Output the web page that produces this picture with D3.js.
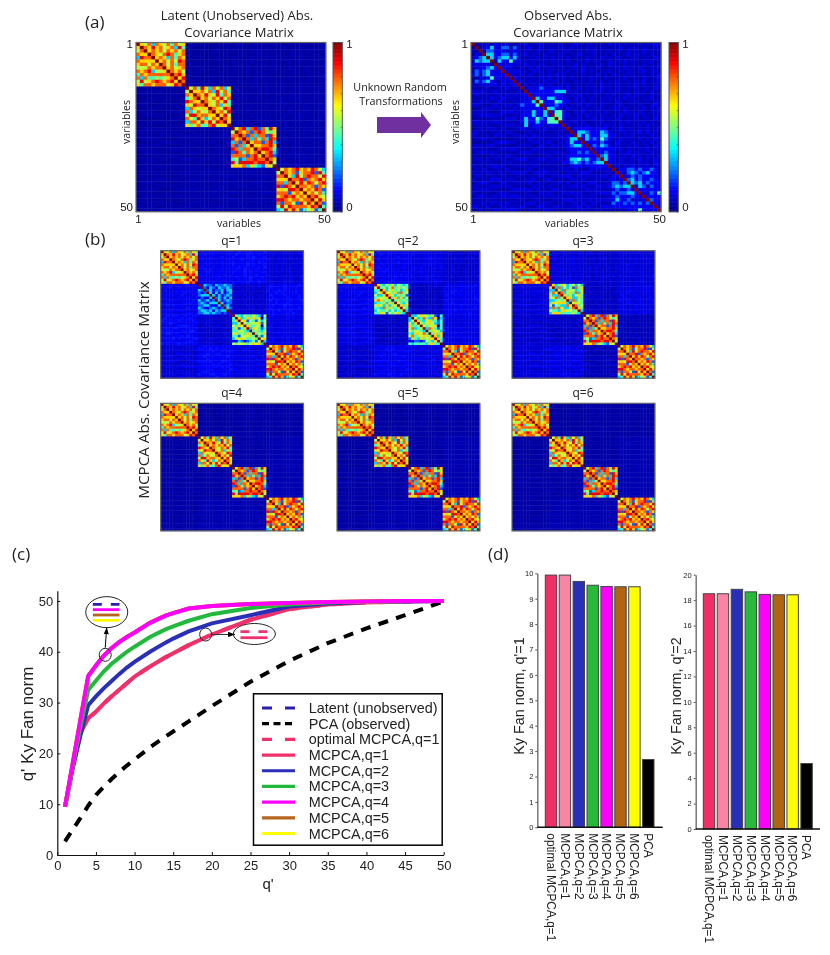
<!DOCTYPE html>
<html>
<head>
<meta charset="utf-8">
<script src="https://cdn.jsdelivr.net/npm/d3@7"></script>
<style>
body{margin:0;background:#fff;}
svg{display:block;filter:blur(.3px);}
text{fill:#222;}
.sans{font-family:"Liberation Sans",Arial,sans-serif;}
.myriad{font-family:"Open Sans",sans-serif;}
</style>
</head>
<body>
<script>
var width = 830, height = 955;

// heatmap data. upper triangle of each block, digit/9, diagonal first
// 0 in a block = falls back on the background level
var blockSizes = [13,12,12,13];

var latent0 = ["9657376574756","976867567384","96767576757","9765787467","967637476","96757587","9757477","967567","97675","9786","968","97","9"];
var latent1 = ["957486375736","96675738574","9768658476","967576857","97657684","9657364","976587","96758","9685","976","96","9"];
var latent2 = ["957837827486","97672787546","9727377286","973747387","96772783","9667786","978874","96783","9782","976","95","9"];
var latent3 = ["9576786768753","976726778284","96385787758","9778276786","968687578","97767276","9676872","967574","97865","9686","972","94","9"];

var observed0 = ["9000001001000","901131022020","90220110010","9331122020","931233130","90310411","9101101","910100","91011","9100","910","91","9"];
var observed1 = ["901012101110","91011101333","9111011110","931133111","94111431","9111211","933110","91441","9441","941","91","9"];
var observed2 = ["901111101110","91332111321","9313111331","913121421","91111210","9121321","911111","91121","9231","931","91","9"];
var observed3 = ["9011221211210","910232123110","91121211110","9231211210","932312111","91320210","9111110","910214","91111","9211","911","91","9"];

var q1Block1 = ["913221322322","92132132232","9231223133","931313123","93131232","9231313","931232","93122","9231","932","91","9"];
var q1Block2 = ["944354454315","96346464614","9562542535","954555625","96445515","9365424","946435","94546","9425","956","93","9"];
var q2Block1 = ["964354635434","94535746454","9635645346","965463745","96536452","9463635","946454","95435","9646","954","93","9"];
var q2Block2 = ["933565545214","95347437613","9643564424","954565324","95455614","9376424","946553","94646","9636","964","94","9"];
var q3Block1 = ["963465345353","93735362746","9537455346","973564736","96463564","9663364","937354","95654","9745","964","93","9"];

// off-block levels between block pairs
var bgLatent = [[.03,.025,.03,.03],[.025,.03,.03,.035],[.03,.03,.03,.035],[.03,.035,.035,.03]];
var bgObserved = [[.04,.045,.04,.045],[.045,.04,.045,.045],[.04,.045,.04,.05],[.045,.045,.05,.04]];
var bgQ1 = [[.05,.09,.10,.07],[.09,.07,.06,.10],[.10,.06,.07,.08],[.07,.10,.08,.07]];
var bgQ2 = [[.05,.09,.08,.06],[.09,.07,.05,.09],[.08,.05,.07,.08],[.06,.09,.08,.06]];
var bgQ3 = [[.05,.07,.06,.07],[.07,.05,.05,.08],[.06,.05,.05,.04],[.07,.08,.04,.05]];
var bgQ4 = [[.03,.025,.03,.03],[.025,.03,.03,.04],[.03,.03,.03,.04],[.03,.04,.04,.03]];

// small texture of the background, upper triangle too
var bgNoise = [
"01203102130021401230120310241023012041203021302140",
"1021302120310240130210320412031203102140213021031",
"012031204130210310240123012031402130210312041203",
"10213012031402103120310214012301203102403120310",
"0210312031021302140213021031204120310213012041",
"102140310213012031203102140320130214031021302",
"01203120412031021302140310213042013021031204",
"1032012031402130210320412031021304120310213",
"021031204120310213021403102130120310240130",
"10214031021304130210312041203102130120314",
"0130212031402130310204120310213012031024",
"102031204123021031204013021301203140213",
"01302140310213021031204120310214031021",
"2103120310214013021304120310213012041",
"013021403102130120314021302103120310",
"10214031021304120310213012403120312",
"0310213012041203102130214031021302",
"103120314021302103120410213012031",
"02140310213041203102130120310240",
"1031204120310213012403102130214",
"012031021402130310204120310213",
"10213012041203102130214031021",
"0310213021403120310213012041",
"102140310213012031402130210",
"03102130120412031021304120",
"1021301203102140310213012",
"012403120310213021403120",
"10213021403102130120310",
"0120310240130210312041",
"102130120412031021302",
"03102140310213012031",
"1021304120310213021",
"012031021403120310",
"10213012041203102",
"0312031021402130",
"102130210312041",
"01203140213021",
"1031204120310",
"021403102130",
"10213012031",
"0314021302",
"103120410",
"02130214",
"1031203",
"012041",
"10213",
"0310",
"102",
"01",
"0"
];

// colour stops of the jet map
var jetDomain = [0,.125,.375,.625,.875,1];
var jetRange = ["#00007f","#0000ff","#00ffff","#ffff00","#ff0000","#7f0000"];
var jet = d3.scaleLinear().domain(jetDomain).range(jetRange).clamp(true);

var colorbarTicks = [0,.1,.2,.3,.4,.5,.6,.7,.8,.9,1];

// panel (c)
var qPrime = [1,2,3,4,5,6,7,8,9,10,12,14,15,17,20,25,30,35,40,45,50];
var latentCurve = [9.5,18.1,26.7,35.2,37.3,39.2,40.7,41.9,42.9,43.8,45.7,47.1,47.6,48.5,49.0,49.4,49.6,49.8,49.9,50,50];
var q1Curve = [9.5,17.5,24.0,26.9,28.2,29.8,31.2,32.5,33.8,35.1,37.1,38.9,39.7,41.3,43.4,46.3,48.4,49.3,49.7,49.9,50];
var q2Curve = [9.5,17.0,23.6,29.5,31.2,32.8,34.2,35.6,36.9,38.0,40.0,41.8,42.6,44.0,45.6,47.2,48.9,49.5,49.8,49.9,50];
var q3Curve = [9.5,17.5,25.2,32.5,34.3,36.1,37.6,38.8,40.0,41.0,42.9,44.4,45.0,46.1,47.4,48.6,49.3,49.7,49.9,50,50];
var pcaCurve = [2.7,5.0,7.3,9.7,11.8,13.4,14.9,16.3,17.6,18.8,21.2,23.3,24.3,26.3,29.3,34.1,38.2,41.7,44.6,47.2,49.9];
var curveTicksX = [0,5,10,15,20,25,30,35,40,45,50];
var curveTicksY = [0,10,20,30,40,50];

var legendNames = ["Latent (unobserved)","PCA (observed)","optimal MCPCA,q=1","MCPCA,q=1","MCPCA,q=2","MCPCA,q=3","MCPCA,q=4","MCPCA,q=5","MCPCA,q=6"];
var legendColors = ["#2a1fb0","#000000","#f0306a","#f0306a","#2a2fb8","#22b83c","#ff00ff","#b5651d","#ffff00"];
var legendDash = ["10,13","7,4.5","10,13",null,null,null,null,null,null];

// panel (d)
var barNames = ["optimal MCPCA,q=1","MCPCA,q=1","MCPCA,q=2","MCPCA,q=3","MCPCA,q=4","MCPCA,q=5","MCPCA,q=6","PCA"];
var barColors = ["#ef3066","#f985a5","#2a2fb8","#27b83c","#ff00ff","#b06514","#ffff00","#000000"];
var barsQ1 = [9.93,9.93,9.68,9.53,9.48,9.47,9.47,2.67];
var barsQ2 = [18.5,18.5,18.85,18.65,18.45,18.42,18.42,5.15];

var svg = d3.select("body").append("svg").attr("width", width).attr("height", height);

function label(str, x, y, size, cls, anchor, rotate){
	var t = svg.append("text").attr("class", cls).attr("font-size", size)
		.attr("text-anchor", anchor || "middle").text(str);
	if (rotate) t.attr("transform", "translate(" + x + "," + y + ") rotate(" + rotate + ")");
	else t.attr("x", x).attr("y", y);
	return t;
}

function blockOf(i){
	var s = 0;
	for (var b = 0; b < 4; b++){
		if (i < s + blockSizes[b]) return [b, s];
		s += blockSizes[b];
	}
}

function cellValue(panel, i, j){
	var a = Math.min(i,j), b = Math.max(i,j);
	var A = blockOf(a), B = blockOf(b);
	if (A[0] == B[0]){
		var ch = +panel.blocks[A[0]][a - A[1]][b - a];
		if (ch > 0) return ch / 9;
	}
	var n = +(bgNoise[a][b - a] || 0);
	return panel.levels[A[0]][B[0]] + n * panel.gain;
}

function drawMatrix(panel, x0, y0, x1, y1){
	var idx = d3.range(50);
	var x = d3.scaleBand().domain(idx).range([x0,x1]);
	var y = d3.scaleBand().domain(idx).range([y0,y1]);
	var cells = [];
	idx.forEach(function(i){
		idx.forEach(function(j){
			cells.push({i:i, j:j, v:cellValue(panel,i,j)});
		});
	});
	var g = svg.append("g");
	g.selectAll("rect").data(cells).enter().append("rect")
		.attr("x", function(d){return x(d.j)})
		.attr("y", function(d){return y(d.i)})
		.attr("width", x.bandwidth() + .4)
		.attr("height", y.bandwidth() + .4)
		.attr("fill", function(d){return jet(d.v)});

	// inward ticks and frame
	var lx = d3.scaleLinear().domain([.5,50.5]).range([x0,x1]);
	var ly = d3.scaleLinear().domain([.5,50.5]).range([y0,y1]);
	var tv = [5,10,15,20,25,30,35,40,45,50];
	[[d3.axisBottom(lx).tickSize(-1.5), y1, 0],[d3.axisTop(lx).tickSize(-1.5), y0, 0],
	 [d3.axisLeft(ly).tickSize(-1.5), 0, x0],[d3.axisRight(ly).tickSize(-1.5), 0, x1]].forEach(function(a){
		var ag = svg.append("g").attr("transform", "translate(" + a[2] + "," + a[1] + ")")
			.call(a[0].tickValues(tv).tickFormat(""));
		ag.selectAll("line").attr("stroke", "#333").attr("stroke-width", .6);
		ag.select(".domain").remove();
	});
	svg.append("rect").attr("x", x0).attr("y", y0).attr("width", x1-x0).attr("height", y1-y0)
		.attr("fill", "none").attr("stroke", "#666").attr("stroke-width", 1.2);
	return {lx:lx, ly:ly};
}

function drawLabels(s, x0, y0, x1, y1){
	var bottom = svg.append("g").attr("transform", "translate(0," + y1 + ")")
		.call(d3.axisBottom(s.lx).tickValues([1,50]).tickSize(0).tickPadding(3));
	bottom.select(".domain").remove();
	bottom.selectAll("text").attr("class", "sans").attr("font-size", 11.5)
		.attr("font-family", "Liberation Sans");
	var left = svg.append("g").attr("transform", "translate(" + x0 + ",0)")
		.call(d3.axisLeft(s.ly).tickValues([1,50]).tickSize(0).tickPadding(3));
	left.select(".domain").remove();
	left.selectAll("text").attr("font-size", 11.5).attr("font-family", "Liberation Sans");
	left.selectAll(".tick").filter(function(d){return d == 50}).select("text").attr("dy", ".05em");
	left.selectAll(".tick").filter(function(d){return d == 1}).select("text").attr("dy", ".25em");
}

function drawColorbar(x0, y0, x1, y1){
	var cy = d3.scaleLinear().domain([0,1]).range([y1,y0]);
	var steps = d3.range(0,1,1/128);
	svg.append("g").selectAll("rect").data(steps).enter().append("rect")
		.attr("x", x0).attr("width", x1-x0)
		.attr("y", function(d){return cy(d + 1/128)})
		.attr("height", (y1-y0)/128 + .5)
		.attr("fill", function(d){return jet(d)});
	var ax = svg.append("g").attr("transform", "translate(" + x1 + ",0)")
		.call(d3.axisRight(cy).tickValues(colorbarTicks).tickSize(-1.5).tickFormat(""));
	ax.selectAll("line").attr("stroke", "#333").attr("stroke-width", .6);
	ax.select(".domain").remove();
	svg.append("rect").attr("x", x0).attr("y", y0).attr("width", x1-x0).attr("height", y1-y0)
		.attr("fill", "none").attr("stroke", "#555").attr("stroke-width", 1);
	label("1", x1 + 4, y0 + 5, 11.5, "sans", "start");
	label("0", x1 + 4, y1 - 1, 11.5, "sans", "start");
}

var panelLatent = {blocks:[latent0,latent1,latent2,latent3], levels:bgLatent, gain:.006};
var panelObserved = {blocks:[observed0,observed1,observed2,observed3], levels:bgObserved, gain:.016};

// panel a
label("(a)", 85, 28, 17, "myriad", "start");
label("Latent (Unobserved) Abs.", 237, 20, 13, "myriad");
label("Covariance Matrix", 239, 37, 13, "myriad");
var sa = drawMatrix(panelLatent, 136, 42.5, 325.8, 211.7);
drawLabels(sa, 136, 42.5, 325.8, 211.7);
drawColorbar(333, 42.5, 342.3, 211.7);
label("variables", 239, 227, 10.5, "myriad");
label("variables", 130, 122, 10.5, "myriad", "middle", -90);

label("Observed Abs.", 568, 20, 13, "myriad");
label("Covariance Matrix", 568, 37, 13, "myriad");
var sb = drawMatrix(panelObserved, 471, 42.5, 661, 211.7);
drawLabels(sb, 471, 42.5, 661, 211.7);
drawColorbar(669, 42.5, 678.3, 211.7);
label("variables", 567, 227, 10.5, "myriad");
label("variables", 459, 122, 10.5, "myriad", "middle", -90);

label("Unknown Random", 400, 91, 10.8, "myriad");
label("Transformations", 401, 105, 10.8, "myriad");
svg.append("path").attr("d", "M377,117H421V112L431,125L421,138V133H377Z").attr("fill", "#7030a0");

// panel b
label("(b)", 85, 245, 17, "myriad", "start");
label("MCPCA Abs. Covariance Matrix", 149, 390, 15.2, "myriad", "middle", -90);
var smallPanels = [
	{name:"q=1", blocks:[latent0,q1Block1,q1Block2,latent3], levels:bgQ1, gain:.012, x:160.7, y:250.7},
	{name:"q=2", blocks:[latent0,q2Block1,q2Block2,latent3], levels:bgQ2, gain:.012, x:337, y:250.7},
	{name:"q=3", blocks:[latent0,q3Block1,latent2,latent3], levels:bgQ3, gain:.012, x:512, y:250.7},
	{name:"q=4", blocks:[latent0,latent1,latent2,latent3], levels:bgQ4, gain:.006, x:160.7, y:403.3},
	{name:"q=5", blocks:[latent0,latent1,latent2,latent3], levels:bgQ4, gain:.006, x:337, y:403.3},
	{name:"q=6", blocks:[latent0,latent1,latent2,latent3], levels:bgQ4, gain:.006, x:512, y:403.3}
];
smallPanels.forEach(function(p){
	drawMatrix(p, p.x, p.y, p.x + 142.8, p.y + 127.5);
	label(p.name, p.x + 71, p.y - 6, 12, "myriad");
});

// panel c
label("(c)", 12, 560, 17, "myriad", "start");
var cx = d3.scaleLinear().domain([0,50]).range([57.3,443.7]);
var cy = d3.scaleLinear().domain([0,52]).range([855,590.8]);

var line = d3.line().x(function(d){return cx(d[0])}).y(function(d){return cy(d[1])});
function curvePoints(vals){
	return qPrime.map(function(q,i){return [q, vals[i]]});
}
// draw order so that q=4 ends up on top like the original
[[pcaCurve,"#000",4,"10,8.5"],[q1Curve,legendColors[3],4,null],[q1Curve,legendColors[2],4,"10,13"],
 [q2Curve,legendColors[4],4,null],[q3Curve,legendColors[5],4,null],
 [latentCurve,legendColors[8],4,null],[latentCurve,legendColors[7],4,null],[latentCurve,legendColors[6],4,null]].forEach(function(c){
	svg.append("path").attr("d", line(curvePoints(c[0]))).attr("fill","none")
		.attr("stroke", c[1]).attr("stroke-width", c[2]).attr("stroke-dasharray", c[3]);
});

var xAxis = svg.append("g").attr("transform", "translate(0,855)")
	.call(d3.axisBottom(cx).tickValues(curveTicksX).tickSize(-3).tickPadding(6).tickSizeOuter(0));
var yAxis = svg.append("g").attr("transform", "translate(57.3,0)")
	.call(d3.axisLeft(cy).tickValues(curveTicksY).tickSize(-3).tickPadding(4).tickSizeOuter(0));
[xAxis,yAxis].forEach(function(a){
	a.selectAll("text").attr("font-size", 13).attr("font-family", "Liberation Sans").attr("fill", "#222");
	a.select(".domain").attr("stroke", "#111").attr("stroke-width", 1.2);
	a.selectAll("line").attr("stroke", "#111");
});
label("q' Ky Fan norm", 33, 724, 17, "sans", "middle", -90);
label("q'", 268, 889, 15, "sans");

// legend
var lg = svg.append("g");
lg.append("rect").attr("x", 253.5).attr("y", 693.8).attr("width", 188.7).attr("height", 151.4)
	.attr("fill", "#fff").attr("stroke", "#000").attr("stroke-width", 1.5);
var ly = d3.scalePoint().domain(legendNames).range([708,833.5]);
legendNames.forEach(function(n,i){
	lg.append("line").attr("x1", 262).attr("x2", 295).attr("y1", ly(n)).attr("y2", ly(n))
		.attr("stroke", legendColors[i]).attr("stroke-width", 3.2).attr("stroke-dasharray", legendDash[i]);
	lg.append("text").attr("class", "sans").attr("x", 308.7).attr("y", ly(n) + 5)
		.attr("font-size", 14.4).text(n);
});

// little call-outs on the curves
var defs = svg.append("defs");
defs.append("marker").attr("id", "tip").attr("viewBox", "0 0 8 6").attr("refX", 8).attr("refY", 3)
	.attr("markerWidth", 7).attr("markerHeight", 6).attr("markerUnits", "userSpaceOnUse").attr("orient", "auto")
	.append("path").attr("d", "M0,0L8,3L0,6Z").attr("fill", "#000");

function ring(q, v, rx, ry){
	svg.append("ellipse").attr("cx", cx(q)).attr("cy", cy(v)).attr("rx", rx).attr("ry", ry)
		.attr("fill", "none").attr("stroke", "#222").attr("stroke-width", 1);
}
ring(6.2, 39.4, 6, 6.5);
svg.append("line").attr("x1", cx(6.2)).attr("y1", cy(40.8)).attr("x2", cx(6.4)).attr("y2", cy(44.8))
	.attr("stroke", "#000").attr("marker-end", "url(#tip)");
ring(6.4, 47.8, 21, 15.5);
[legendColors[0],legendColors[6],legendColors[7],legendColors[8]].forEach(function(c,i){
	var yy = 604.3 + i*5.35;
	svg.append("line").attr("x1", cx(4.6)).attr("x2", cx(8.05)).attr("y1", yy).attr("y2", yy)
		.attr("stroke", c).attr("stroke-width", 2.8).attr("stroke-dasharray", i == 0 ? "9,9" : null);
});
ring(19.2, 43.4, 6, 6.5);
svg.append("line").attr("x1", cx(20)).attr("y1", cy(43.4)).attr("x2", cx(23)).attr("y2", cy(43.4))
	.attr("stroke", "#333").attr("marker-end", "url(#tip)");
ring(25.5, 43.5, 21, 10.5);
svg.append("line").attr("x1", cx(23.7)).attr("x2", cx(27.2)).attr("y1", 631.7).attr("y2", 631.7)
	.attr("stroke", legendColors[2]).attr("stroke-width", 2.8).attr("stroke-dasharray", "9,9");
svg.append("line").attr("x1", cx(23.7)).attr("x2", cx(27.2)).attr("y1", 637.7).attr("y2", 637.7)
	.attr("stroke", legendColors[3]).attr("stroke-width", 2.8);

// panel d
label("(d)", 488, 560, 17, "myriad", "start");

function drawBars(vals, maxY, ticks, x0, x1, axisX, axisEnd, y0, y1, name, nameX){
	var bx = d3.scaleBand().domain(barNames).range([x0,x1]).paddingInner(.18);
	var by = d3.scaleLinear().domain([0,maxY]).range([y0,y1]);
	svg.append("g").selectAll("rect").data(vals).enter().append("rect")
		.attr("x", function(d,i){return bx(barNames[i])})
		.attr("width", bx.bandwidth())
		.attr("y", function(d){return by(d)})
		.attr("height", function(d){return y0 - by(d)})
		.attr("fill", function(d,i){return barColors[i]})
		.attr("stroke", "#444").attr("stroke-width", 1);
	var ya = svg.append("g").attr("transform", "translate(" + axisX + ",0)")
		.call(d3.axisLeft(by).tickValues(ticks).tickSize(2).tickPadding(2).tickSizeOuter(0));
	ya.selectAll("text").attr("font-size", 7.5).attr("font-family", "Liberation Sans").attr("fill", "#222");
	ya.select(".domain").attr("stroke", "#777").attr("stroke-width", 1.5);
	ya.selectAll("line").attr("stroke", "#555");
	var xa = svg.append("g").attr("transform", "translate(0," + y0 + ")")
		.call(d3.axisBottom(bx).tickSize(0).tickPadding(0));
	xa.select(".domain").attr("d", "M" + axisX + ",0H" + axisEnd).attr("stroke", "#111").attr("stroke-width", 1.5);
	xa.selectAll("text")
		.attr("font-size", 11.9).attr("font-family", "Liberation Sans").attr("fill", "#222")
		.attr("text-anchor", "start")
		.attr("transform", "rotate(90)")
		.attr("x", 6).attr("y", 0).attr("dy", ".35em");
	label(name, nameX, 696, 14.4, "sans", "middle", -90);
}
drawBars(barsQ1, 10, d3.range(0,11), 545.3, 654, 537.3, 662.7, 827.3, 573.3, "Ky Fan norm, q'=1", 524);
drawBars(barsQ2, 20, d3.range(0,21,2), 703.3, 812.3, 695.7, 820, 829, 574.7, "Ky Fan norm, q'=2", 681);
</script>
</body>
</html>
